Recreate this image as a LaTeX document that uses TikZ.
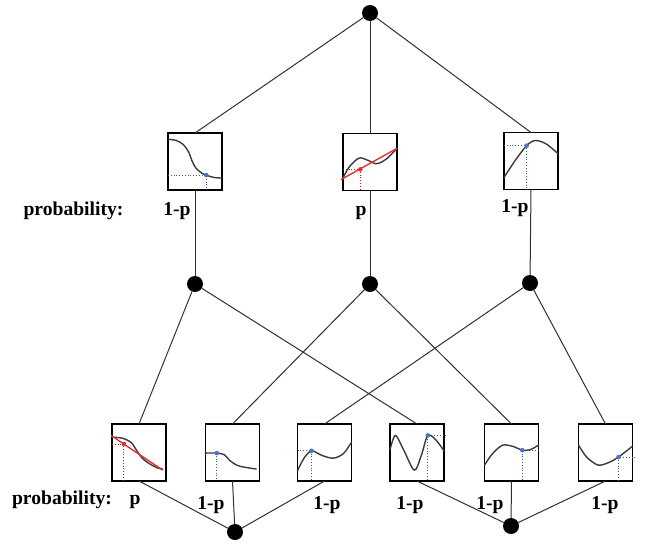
\documentclass[tikz,border=0pt]{standalone}
\usepackage{fontspec}
\setmainfont{Liberation Serif}
\definecolor{curvecol}{HTML}{3A3A3A}
\definecolor{redcol}{HTML}{E53030}
\definecolor{reddot}{HTML}{C81818}
\definecolor{bluept}{HTML}{4A72C8}
\definecolor{bluedot}{HTML}{3A5A9A}
\definecolor{linkcol}{HTML}{303030}
\begin{document}
\begin{tikzpicture}[x=1pt,y=-1pt,
  box/.style={draw=black, line width=1.2pt, minimum width=54pt, minimum height=57pt, inner sep=0pt, outer sep=0pt},
  dot/.style={circle, fill=black, minimum size=16pt, inner sep=0pt, outer sep=0pt},
  link/.style={draw=linkcol, line width=1pt},
  crv/.style={draw=curvecol, line width=1.4pt, line cap=round},
  redline/.style={draw=redcol, line width=1.4pt},
  bdots/.style={draw=bluedot, line width=0.8pt, dotted},
  rdots/.style={draw=reddot, line width=0.8pt, dotted},
  lab/.style={font=\fontsize{19.6}{21}\selectfont\bfseries, inner sep=0pt, anchor=base}]
\useasboundingbox (0,0) rectangle (646,544);
% nodes
\node[dot] (top) at (370,13) {};
\node[box] (m1) at (195,161.5) {};
\node[box] (m2) at (370,162) {};
\node[box] (m3) at (531,161) {};
\node[dot] (c1) at (195,284) {};
\node[dot] (c2) at (370,284) {};
\node[dot] (c3) at (530,283) {};
\node[box] (b1) at (139,452.5) {};
\node[box] (b2) at (232.5,452.5) {};
\node[box] (b3) at (324.5,452.5) {};
\node[box] (b4) at (417,452.5) {};
\node[box] (b5) at (511.5,452.5) {};
\node[box] (b6) at (605.5,452.5) {};
\node[dot] (d1) at (235,532) {};
\node[dot] (d2) at (511,526) {};
% connectors
\path[link] (top) -- (m1.north);
\path[link] (top) -- (m2.north);
\path[link] (top) -- (m3.north);
\path[link] (m1.south) -- (c1);
\path[link] (m2.south) -- (c2);
\path[link] (m3.south) -- (c3);
\path[link] (c1) -- (b1.north);
\path[link] (c1) -- (b4.north);
\path[link] (c2) -- (b2.north);
\path[link] (c2) -- (b5.north);
\path[link] (c3) -- (b3.north);
\path[link] (c3) -- (b6.north);
\path[link] (b1.south) -- (d1);
\path[link] (b2.south) -- (d1);
\path[link] (b3.south) -- (d1);
\path[link] (b4.south) -- (d2);
\path[link] (b5.south) -- (d2);
\path[link] (b6.south) -- (d2);
% curves
\begin{scope}[shift={(m1.south west)}, x=54pt, y=57pt]
  \path[bdots] (0,0.26) -- (0.71,0.26) -- (0.71,0);
  \path[crv] plot[smooth] coordinates {(0,0.89) (0.15,0.87) (0.28,0.8) (0.38,0.67) (0.45,0.5) (0.52,0.38) (0.62,0.3) (0.71,0.26) (0.85,0.22) (1,0.21)};
  \fill[bluept] (0.71,0.26) circle[radius=2.3pt];
\end{scope}
\begin{scope}[shift={(m2.south west)}, x=54pt, y=57pt]
  \path[crv] plot[smooth] coordinates {(0,0.22) (0.12,0.42) (0.3,0.57) (0.46,0.53) (0.62,0.47) (0.8,0.55) (1,0.74)};
  \path[rdots] (0,0.37) -- (0.32,0.37) -- (0.32,0);
  \path[redline] (-0.04,0.19) -- (1,0.74);
  \fill[redcol] (0.32,0.37) circle[radius=2.3pt];
\end{scope}
\begin{scope}[shift={(m3.south west)}, x=54pt, y=57pt]
  \path[bdots] (0,0.77) -- (0.42,0.77) -- (0.42,0);
  \path[crv] plot[smooth] coordinates {(0,0.21) (0.2,0.5) (0.42,0.77) (0.58,0.86) (0.78,0.8) (1,0.63)};
  \fill[bluept] (0.42,0.77) circle[radius=2.3pt];
\end{scope}
\begin{scope}[shift={(b1.south west)}, x=54pt, y=57pt]
  \path[crv] plot[smooth] coordinates {(0,0.77) (0.2,0.75) (0.36,0.67) (0.46,0.53) (0.56,0.4) (0.7,0.3) (0.84,0.23) (0.94,0.21)};
  \path[rdots] (0,0.65) -- (0.22,0.65) -- (0.22,0);
  \path[redline] (-0.02,0.8) -- (0.94,0.19);
  \fill[redcol] (0.22,0.65) circle[radius=2.3pt];
\end{scope}
\begin{scope}[shift={(b2.south west)}, x=54pt, y=57pt]
  \path[bdots] (0.21,0.49) -- (0.21,0);
  \path[crv] plot[smooth] coordinates {(0,0.49) (0.21,0.49) (0.35,0.46) (0.45,0.36) (0.6,0.27) (0.8,0.23) (0.94,0.21)};
  \fill[bluept] (0.21,0.49) circle[radius=2.3pt];
\end{scope}
\begin{scope}[shift={(b3.south west)}, x=54pt, y=57pt]
  \path[bdots] (0,0.53) -- (0.26,0.53) -- (0.26,0);
  \path[crv] plot[smooth] coordinates {(0,0.18) (0.12,0.4) (0.26,0.53) (0.45,0.45) (0.66,0.4) (0.85,0.48) (1,0.68)};
  \fill[bluept] (0.26,0.53) circle[radius=2.3pt];
\end{scope}
\begin{scope}[shift={(b4.south west)}, x=54pt, y=57pt]
  \path[bdots] (1.04,0.8) -- (0.7,0.8) -- (0.7,0);
  \path[crv] plot[smooth] coordinates {(0,0.55) (0.1,0.8) (0.25,0.55) (0.45,0.19) (0.58,0.45) (0.7,0.8) (0.85,0.72) (1,0.53)};
  \fill[bluept] (0.7,0.8) circle[radius=2.3pt];
\end{scope}
\begin{scope}[shift={(b5.south west)}, x=54pt, y=57pt]
  \path[bdots] (1,0.54) -- (0.7,0.54) -- (0.7,0);
  \path[crv] plot[smooth] coordinates {(0,0.28) (0.15,0.48) (0.34,0.63) (0.55,0.6) (0.7,0.54) (0.85,0.55) (1,0.63)};
  \fill[bluept] (0.7,0.54) circle[radius=2.3pt];
\end{scope}
\begin{scope}[shift={(b6.south west)}, x=54pt, y=57pt]
  \path[bdots] (1.05,0.42) -- (0.74,0.42) -- (0.74,0);
  \path[crv] plot[smooth] coordinates {(0,0.63) (0.15,0.42) (0.36,0.28) (0.55,0.32) (0.74,0.42) (1,0.61)};
  \fill[bluept] (0.74,0.42) circle[radius=2.3pt];
\end{scope}
% labels
\node[lab] (pt) at (73.5,215.5) {probability:};
\node[lab] (l1) at (177,215.5) {1-p};
\node[lab] (l2) at (361,215.5) {p};
\node[lab] (l3) at (515,212.5) {1-p};
\node[lab] (pb) at (62,504.5) {probability:};
\node[lab] (q0) at (135,504.5) {p};
\node[lab] (q1) at (211,509.5) {1-p};
\node[lab] (q2) at (327,509.5) {1-p};
\node[lab] (q3) at (410,509.5) {1-p};
\node[lab] (q4) at (490,509.5) {1-p};
\node[lab] (q5) at (605,509.5) {1-p};
\end{tikzpicture}
\end{document}
